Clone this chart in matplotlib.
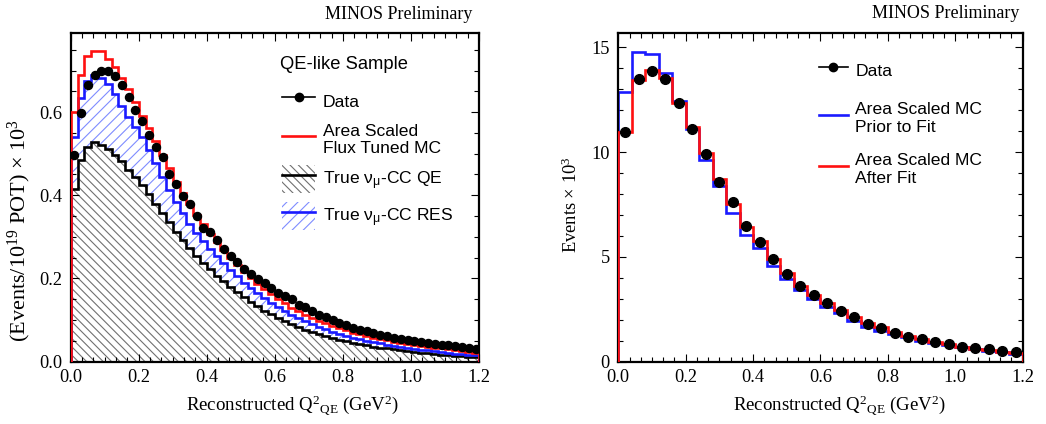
import numpy as np
import matplotlib.pyplot as plt
from matplotlib.lines import Line2D
from matplotlib.patches import Patch
from matplotlib.ticker import MultipleLocator

plt.rcParams['font.family'] = ['Liberation Serif', 'DejaVu Serif']
plt.rcParams['mathtext.fontset'] = 'custom'
plt.rcParams['mathtext.rm'] = 'Liberation Serif'
plt.rcParams['mathtext.it'] = 'Liberation Serif:italic'
plt.rcParams['mathtext.sf'] = 'Liberation Sans'
plt.rcParams['hatch.linewidth'] = 0.8

# QE-like sample, 0.02 GeV^2 bins (per 1e19 POT, x 1e3)
qe_edges = np.linspace(0.0, 1.2, 61)
qe_data = [0.498, 0.598, 0.664, 0.690, 0.700, 0.700, 0.686, 0.664, 0.637, 0.606,
           0.578, 0.545, 0.515, 0.492, 0.450, 0.428, 0.398, 0.380, 0.350, 0.322,
           0.312, 0.292, 0.270, 0.255, 0.240, 0.222, 0.210, 0.198, 0.190, 0.176,
           0.165, 0.158, 0.150, 0.137, 0.131, 0.121, 0.113, 0.108, 0.101, 0.094,
           0.088, 0.082, 0.077, 0.073, 0.069, 0.065, 0.062, 0.058, 0.055, 0.052,
           0.050, 0.047, 0.045, 0.043, 0.041, 0.039, 0.037, 0.035, 0.033, 0.031]
qe_mc = [0.600, 0.690, 0.735, 0.748, 0.746, 0.727, 0.708, 0.682, 0.655, 0.625,
         0.590, 0.562, 0.530, 0.497, 0.465, 0.433, 0.405, 0.378, 0.352, 0.330,
         0.308, 0.288, 0.268, 0.250, 0.232, 0.215, 0.200, 0.187, 0.174, 0.162,
         0.150, 0.140, 0.130, 0.121, 0.113, 0.105, 0.098, 0.092, 0.086, 0.080,
         0.075, 0.070, 0.066, 0.062, 0.058, 0.054, 0.051, 0.048, 0.045, 0.042,
         0.040, 0.038, 0.036, 0.034, 0.032, 0.030, 0.028, 0.026, 0.024, 0.022]
# true CC QE and CC QE + CC RES (stacked)
qe_true = [0.415, 0.485, 0.515, 0.527, 0.522, 0.512, 0.498, 0.482, 0.462, 0.445,
           0.425, 0.403, 0.380, 0.358, 0.335, 0.312, 0.292, 0.273, 0.255, 0.238,
           0.222, 0.207, 0.193, 0.180, 0.167, 0.155, 0.143, 0.133, 0.123, 0.114,
           0.105, 0.097, 0.090, 0.083, 0.077, 0.071, 0.066, 0.061, 0.057, 0.053,
           0.049, 0.045, 0.042, 0.039, 0.036, 0.034, 0.032, 0.030, 0.028, 0.026,
           0.024, 0.022, 0.020, 0.019, 0.017, 0.016, 0.014, 0.013, 0.012, 0.011]
qe_plus_res = [0.540, 0.635, 0.675, 0.690, 0.683, 0.667, 0.643, 0.615, 0.588, 0.563,
               0.540, 0.510, 0.478, 0.445, 0.412, 0.383, 0.357, 0.332, 0.310, 0.290,
               0.272, 0.254, 0.237, 0.221, 0.205, 0.190, 0.177, 0.165, 0.153, 0.142,
               0.131, 0.122, 0.113, 0.105, 0.097, 0.090, 0.084, 0.078, 0.072, 0.067,
               0.062, 0.058, 0.054, 0.050, 0.047, 0.044, 0.041, 0.038, 0.036, 0.033,
               0.031, 0.029, 0.027, 0.025, 0.023, 0.021, 0.019, 0.018, 0.016, 0.015]

# fit comparison, 0.04 GeV^2 bins (events x 1e3)
fit_edges = np.linspace(0.0, 1.2, 31)
fit_data = [10.94, 13.47, 13.87, 13.47, 12.36, 11.09, 9.91, 8.59, 7.60, 6.49,
            5.73, 4.88, 4.17, 3.61, 3.18, 2.82, 2.43, 2.12, 1.80, 1.62,
            1.35, 1.19, 1.08, 0.95, 0.83, 0.72, 0.64, 0.60, 0.52, 0.45]
fit_prior = [12.88, 14.76, 14.68, 13.79, 12.44, 11.09, 9.62, 8.38, 7.11, 6.04,
             5.41, 4.58, 3.93, 3.42, 2.97, 2.59, 2.31, 1.96, 1.67, 1.48,
             1.32, 1.16, 1.00, 0.87, 0.78, 0.68, 0.59, 0.52, 0.45, 0.37]
fit_after = [10.94, 13.44, 13.92, 13.52, 12.36, 11.21, 9.94, 8.70, 7.52, 6.44,
             5.77, 4.90, 4.22, 3.63, 3.18, 2.78, 2.47, 2.15, 1.86, 1.67,
             1.43, 1.24, 1.07, 0.95, 0.84, 0.72, 0.62, 0.56, 0.48, 0.40]

RED = '#ff1010'
BLUE = '#1a1aff'
HATCH_BLUE = '#7f8cff'
HATCH_GREY = '#707070'
QE_HATCH = '\\' * 4
RES_HATCH = '/' * 3
LW = 1.9

fig = plt.figure(figsize=(10.46, 4.24), dpi=100)
ax1 = fig.add_axes([0.0676, 0.147, 0.3903, 0.775])
ax2 = fig.add_axes([0.5911, 0.147, 0.3866, 0.775])

# left: QE-like sample
ax1.stairs(qe_true, qe_edges, fill=True, hatch=QE_HATCH, facecolor='none',
           edgecolor=HATCH_GREY, linewidth=0, zorder=1)
ax1.stairs(qe_plus_res, qe_edges, baseline=qe_true, fill=True, hatch=RES_HATCH,
           facecolor='none', edgecolor=HATCH_BLUE, linewidth=0, zorder=1)
ax1.stairs(qe_true, qe_edges, color='black', linewidth=LW, zorder=2)
ax1.stairs(qe_plus_res, qe_edges, color=BLUE, linewidth=LW, zorder=3)
ax1.stairs(qe_mc, qe_edges, color=RED, linewidth=LW, zorder=4)
qe_x = 0.5 * (qe_edges[:-1] + qe_edges[1:])
ax1.plot(qe_x, qe_data, 'o', color='black', markersize=5.8, zorder=5)

ax1.set_xlim(0, 1.2)
ax1.set_ylim(0, 0.79)
ax1.yaxis.set_major_locator(MultipleLocator(0.2))
ax1.yaxis.set_minor_locator(MultipleLocator(0.05))
ax1.set_ylabel(r'(Events/10$^{19}$ POT) $\times$ 10$^{3}$', fontsize=16)
ax1.yaxis.set_label_coords(-0.093, 0.40)

# right: prior vs. after fit
ax2.stairs(fit_prior, fit_edges, color=BLUE, linewidth=LW, zorder=2)
ax2.stairs(fit_after, fit_edges, color=RED, linewidth=LW, zorder=3)
fit_x = 0.5 * (fit_edges[:-1] + fit_edges[1:])
ax2.plot(fit_x, fit_data, 'o', color='black', markersize=7, zorder=5)

ax2.set_xlim(0, 1.2)
ax2.set_ylim(0, 15.68)
ax2.yaxis.set_major_locator(MultipleLocator(5))
ax2.yaxis.set_minor_locator(MultipleLocator(1))
ax2.set_ylabel(r'Events $\times$ 10$^{3}$', fontsize=13.3)
ax2.yaxis.set_label_coords(-0.093, 0.477)

xlab = r'Reconstructed Q$^{2}{}_{\rm QE}$ (GeV$^{2}$)'
for ax, xl in ((ax1, 0.544), (ax2, 0.548)):
    ax.xaxis.set_major_locator(MultipleLocator(0.2))
    ax.xaxis.set_minor_locator(MultipleLocator(0.2 / 6))
    ax.xaxis.set_major_formatter('{x:.1f}')
    ax.tick_params(which='both', direction='in', top=True, right=True,
                   labelsize=13.2, width=0.8)
    ax.tick_params(which='major', length=6)
    ax.tick_params(which='minor', length=3.5)
    ax.tick_params(axis='x', pad=5)
    ax.tick_params(axis='y', pad=6)
    for sp in ax.spines.values():
        sp.set_linewidth(1.6)
    ax.set_xlabel(xlab, fontsize=13.6, va='center')
    ax.xaxis.set_label_coords(xl, -0.132)

ax1.text(0.985, 1.058, 'MINOS Preliminary', transform=ax1.transAxes,
         ha='right', va='center', fontsize=13)
ax2.text(0.991, 1.061, 'MINOS Preliminary', transform=ax2.transAxes,
         ha='right', va='center', fontsize=13)

# legends
sans = {'family': 'Liberation Sans', 'size': 12.6}
ax1.text(0.5126, 0.905, 'QE-like Sample', transform=ax1.transAxes,
         ha='left', va='center', fontdict={'family': 'Liberation Sans', 'size': 13.2})
h_data = Line2D([], [], color='black', marker='o', markersize=6, linewidth=1.2)
h_mc = Line2D([], [], color=RED, linewidth=LW)
h_qe = (Patch(facecolor='none', edgecolor=HATCH_GREY, hatch=QE_HATCH, linewidth=0),
        Line2D([], [], color='black', linewidth=LW))
h_res = (Patch(facecolor='none', edgecolor=HATCH_BLUE, hatch=RES_HATCH, linewidth=0),
         Line2D([], [], color=BLUE, linewidth=LW))
ax1.legend([h_data, h_mc, h_qe, h_res],
           ['Data', 'Area Scaled\nFlux Tuned MC', r'True ν$_{\mathsf{μ}}$-CC QE',
            r'True ν$_{\mathsf{μ}}$-CC RES'],
           loc='upper left', bbox_to_anchor=(0.5175, 0.836), frameon=False,
           prop=sans, borderpad=0, borderaxespad=0, handlelength=1.9,
           handleheight=2.1, handletextpad=0.44, labelspacing=0.5)

h_prior = Line2D([], [], color=BLUE, linewidth=LW)
h_after = Line2D([], [], color=RED, linewidth=LW)
ax2.legend([h_data, h_prior, h_after],
           ['Data', 'Area Scaled MC\nPrior to Fit', 'Area Scaled MC\nAfter Fit'],
           loc='upper left', bbox_to_anchor=(0.496, 0.927), frameon=False,
           prop=sans, borderpad=0, borderaxespad=0, handlelength=1.65,
           handleheight=2.0, handletextpad=0.44, labelspacing=1.05)

fig.savefig('out.png', dpi=100)
